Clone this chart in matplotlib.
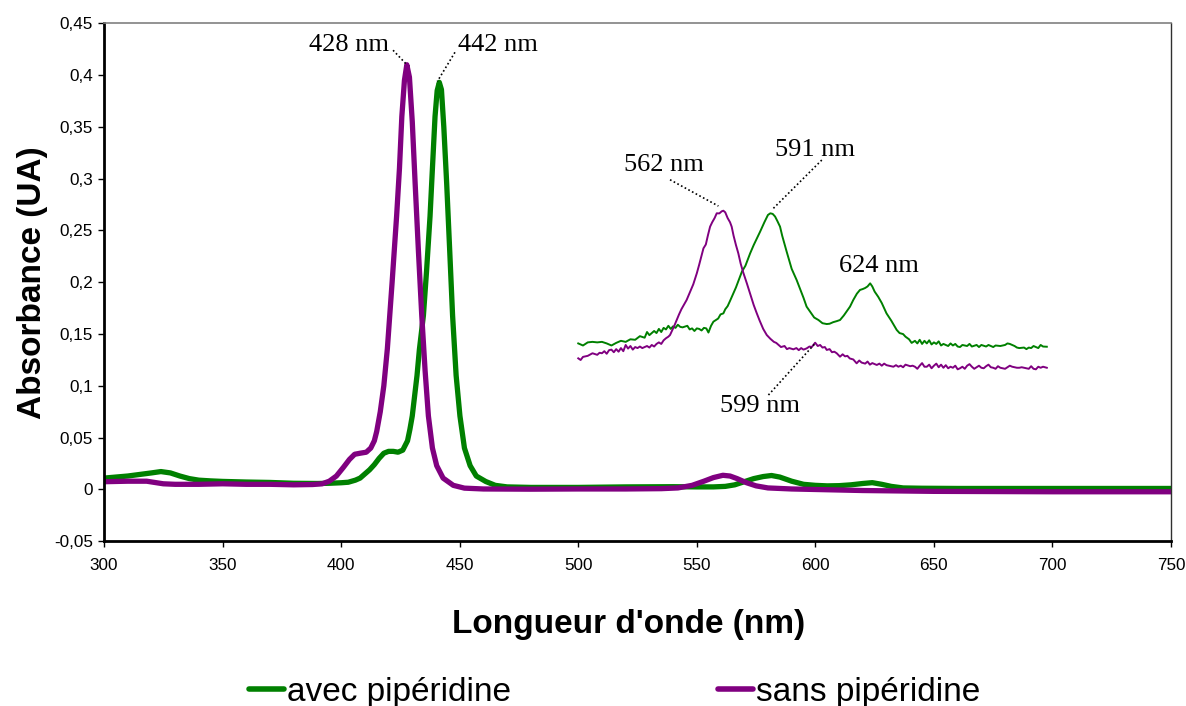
import matplotlib.pyplot as plt
from matplotlib.lines import Line2D
from matplotlib.ticker import FuncFormatter, MultipleLocator

# couleurs des deux séries
GREEN = '#008000'
PURPLE = '#800080'

# spectres complets (nm, absorbance)
avec = [(300, 0.011), (305, 0.012), (310, 0.013), (315, 0.0145), (320, 0.016), (324, 0.0173),
        (328, 0.016), (332, 0.013), (336, 0.0105), (340, 0.009), (345, 0.0083), (350, 0.0078),
        (360, 0.0072), (370, 0.0068), (380, 0.006), (390, 0.0058), (395, 0.006), (400, 0.0065),
        (403, 0.007), (406, 0.009), (408, 0.011), (410, 0.015), (412, 0.019), (414, 0.024),
        (416, 0.030), (418, 0.035), (420, 0.0368), (422, 0.0368), (424, 0.036), (426, 0.038),
        (428, 0.047), (429, 0.058), (430, 0.071), (432, 0.11), (433, 0.135), (434.7, 0.168),
        (436, 0.21), (437.5, 0.264), (438.5, 0.31), (439.6, 0.36), (440.5, 0.385), (441.4, 0.393),
        (442.3, 0.386), (443.3, 0.35), (444.5, 0.296), (445.8, 0.23), (447, 0.168), (448.5, 0.11),
        (450.1, 0.071), (452, 0.04), (454.4, 0.023), (457, 0.013), (461, 0.0077), (465, 0.004),
        (470, 0.0025), (480, 0.002), (500, 0.002), (520, 0.0025), (540, 0.0027), (550, 0.0025),
        (557, 0.0025), (562, 0.003), (566, 0.0045), (570, 0.0075), (574, 0.0105), (578, 0.0125),
        (581.5, 0.0135), (585, 0.012), (590, 0.008), (595, 0.005), (600, 0.004), (605, 0.0035),
        (610, 0.0037), (615, 0.0045), (620, 0.0058), (624, 0.0066), (628, 0.005), (632, 0.003),
        (637, 0.0015), (645, 0.0012), (660, 0.001), (700, 0.001), (750, 0.001)]

sans = [(300, 0.0075), (310, 0.008), (318, 0.008), (325, 0.0055), (330, 0.005), (340, 0.005),
        (350, 0.0055), (360, 0.005), (370, 0.005), (380, 0.0045), (388, 0.0048), (392, 0.0055),
        (395, 0.008), (398, 0.013), (401, 0.0215), (403.5, 0.029), (405.7, 0.034), (408, 0.035),
        (410.6, 0.036), (412.5, 0.040), (414, 0.047), (415, 0.056), (416.5, 0.075), (418, 0.10),
        (419.5, 0.136), (421.5, 0.2), (423.4, 0.264), (424.6, 0.31), (425.6, 0.36), (426.7, 0.395),
        (427.7, 0.41), (428.8, 0.398), (430, 0.355), (431.2, 0.296), (432.6, 0.23), (434, 0.168),
        (435.4, 0.115), (436.8, 0.071), (438.5, 0.04), (440.3, 0.023), (443, 0.011), (447.3, 0.004),
        (452, 0.0013), (460, 0.0005), (480, 0.0003), (500, 0.0005), (520, 0.0005), (535, 0.0008),
        (542, 0.0015), (548, 0.004), (553, 0.008), (557, 0.0115), (561, 0.0137), (564, 0.013),
        (567, 0.0105), (571, 0.0065), (575, 0.0035), (580, 0.0015), (590, 0.0005), (600, 0.0),
        (620, -0.001), (650, -0.0018), (700, -0.0022), (750, -0.0022)]

# agrandissement de la zone 500-700 nm (décalé)
avec_zoom = [(500, 0.141), (502, 0.139), (504, 0.142), (506, 0.1425), (508, 0.142), (510, 0.1425),
             (512, 0.141), (514, 0.139), (516, 0.1415), (518, 0.1435), (520, 0.1425), (522, 0.145),
             (524, 0.1445), (526, 0.148), (528, 0.1465), (529, 0.152), (530, 0.149), (532, 0.153),
             (533, 0.151), (534, 0.155), (535, 0.152), (536, 0.156), (537, 0.1545), (538, 0.158),
             (539, 0.155), (540, 0.1575), (541, 0.156), (542, 0.159), (543, 0.157), (544, 0.1565),
             (546, 0.158), (547, 0.1545), (548, 0.1555), (549, 0.153), (550, 0.1555), (551, 0.155),
             (552, 0.1535), (553, 0.156), (554, 0.1555), (554.9, 0.1515), (556, 0.158), (557, 0.162),
             (558, 0.1635), (559, 0.165), (560, 0.169), (561.2, 0.170), (562, 0.174), (563, 0.177),
             (564, 0.182), (565.4, 0.1894), (566.5, 0.195), (567.5, 0.201), (569, 0.2102),
             (570.5, 0.216), (572.5, 0.228), (574, 0.236), (576.7, 0.2489), (578.5, 0.258),
             (580, 0.265), (581, 0.2666), (582, 0.266), (583, 0.2635), (584, 0.259), (585.1, 0.2537),
             (586, 0.245), (587.9, 0.2295), (589, 0.221), (590, 0.213), (592.1, 0.2022),
             (593.5, 0.194), (595, 0.185), (596.3, 0.1765), (598, 0.171), (599.5, 0.166),
             (601.3, 0.1636), (603, 0.1605), (604.8, 0.1597), (606, 0.160), (607.5, 0.1615),
             (609, 0.1625), (610.4, 0.1636), (612, 0.168), (613.5, 0.173), (614.6, 0.1765),
             (616, 0.183), (617.5, 0.189), (618.8, 0.1926), (620, 0.1935), (621, 0.1945), (622, 0.196),
             (623.1, 0.199), (624, 0.196), (625, 0.191), (626.5, 0.186), (628, 0.180), (629, 0.175),
             (630, 0.170), (631, 0.1665), (632, 0.163), (633, 0.159), (634.3, 0.154), (635.5, 0.151),
             (637, 0.150), (638, 0.1475), (639.5, 0.145), (640.6, 0.1415), (642, 0.1435), (643, 0.141),
             (644, 0.1445), (645, 0.1405), (646, 0.1435), (647, 0.141), (648, 0.144), (649, 0.140),
             (650, 0.142), (651, 0.1405), (652, 0.143), (653, 0.139), (654, 0.1405), (656, 0.1385),
             (657, 0.141), (658, 0.139), (659, 0.1405), (660, 0.138), (661, 0.1375), (662, 0.1395),
             (664, 0.1385), (665, 0.1405), (666, 0.138), (668, 0.1395), (669, 0.1375), (670, 0.1395),
             (672, 0.138), (673, 0.1395), (675, 0.1375), (676, 0.139), (678, 0.1385), (680, 0.1395),
             (681, 0.141), (682, 0.1405), (684, 0.1385), (685, 0.137), (686, 0.1365), (688, 0.137),
             (689, 0.1355), (690, 0.137), (691, 0.1365), (692, 0.1385), (693, 0.1375), (694, 0.1365),
             (695, 0.1395), (696, 0.138), (697.6, 0.1378)]

sans_zoom = [(500, 0.1266), (501, 0.125), (502, 0.128), (504, 0.129), (506, 0.1315), (508, 0.130),
             (509, 0.132), (510, 0.1315), (511, 0.1335), (512, 0.131), (513, 0.1345), (514, 0.135),
             (515, 0.1325), (516, 0.1355), (517, 0.133), (518, 0.1365), (519, 0.1335), (520, 0.1395),
             (521, 0.136), (522, 0.1385), (523, 0.135), (524, 0.1375), (525, 0.1365), (526, 0.138),
             (527, 0.1365), (528, 0.1375), (529, 0.1385), (530, 0.137), (531, 0.1395), (532, 0.138),
             (533, 0.1405), (534, 0.142), (535, 0.1405), (536, 0.144), (537, 0.146), (538, 0.1475),
             (538.7, 0.1491), (539.5, 0.153), (540.5, 0.158), (541.5, 0.1636), (542.5, 0.169),
             (543.5, 0.174), (544.5, 0.178), (545.7, 0.1829), (547, 0.190), (548.5, 0.198),
             (550, 0.2087), (551, 0.217), (552, 0.226), (552.8, 0.2328), (553.8, 0.2365),
             (554.7, 0.2455), (555.6, 0.2537), (556.5, 0.258), (557.5, 0.262), (558.4, 0.2666),
             (559.5, 0.2665), (560.5, 0.2685), (561.2, 0.2691), (562, 0.2675), (563, 0.262),
             (564, 0.258), (564.7, 0.2537), (565.5, 0.245), (566.5, 0.236), (567.5, 0.228),
             (568.5, 0.218), (569.5, 0.210), (571.1, 0.199), (572.5, 0.189), (574, 0.178),
             (575.3, 0.170), (576.5, 0.163), (578, 0.155), (579.5, 0.1491), (581, 0.1455),
             (582.5, 0.1425), (583.5, 0.1415), (584.5, 0.1395), (585.5, 0.1375), (587, 0.1385),
             (588, 0.1355), (589, 0.1365), (590.7, 0.1353), (592, 0.1365), (593, 0.1345), (594, 0.1365),
             (595, 0.135), (596.3, 0.1362), (597.5, 0.138), (598.5, 0.1375), (599.9, 0.1417),
             (601, 0.1385), (602, 0.1395), (603, 0.137), (604, 0.1375), (604.8, 0.1347), (606, 0.1355),
             (607, 0.1325), (608, 0.133), (609, 0.1315), (610.4, 0.1282), (611.5, 0.1305),
             (612.5, 0.1285), (613.5, 0.129), (614.5, 0.1265), (616, 0.1255), (617.4, 0.1218),
             (618.5, 0.1245), (619.5, 0.1225), (621, 0.1215), (622, 0.1235), (623, 0.1205), (624, 0.122),
             (625.9, 0.1202), (627, 0.1215), (628, 0.1195), (629, 0.1215), (630, 0.120), (631, 0.1195),
             (632.9, 0.1185), (634, 0.120), (635, 0.1185), (636, 0.1195), (637, 0.118), (638, 0.1205),
             (640, 0.119), (641, 0.1195), (642, 0.1185), (643, 0.1165), (644, 0.1195), (645, 0.122),
             (646, 0.1185), (647, 0.1185), (648, 0.1205), (649, 0.117), (650, 0.1195), (651, 0.1215),
             (652, 0.118), (653, 0.1205), (654, 0.1175), (655, 0.120), (656, 0.117), (657, 0.1185),
             (658, 0.1175), (659, 0.1195), (660, 0.116), (661, 0.117), (662, 0.1185), (663, 0.1165),
             (664, 0.1195), (665, 0.121), (666, 0.1185), (667, 0.1165), (668, 0.118), (669, 0.1195),
             (670, 0.1175), (671, 0.117), (672, 0.119), (673, 0.1205), (674, 0.118), (675, 0.1175),
             (676, 0.1165), (677, 0.119), (678, 0.1175), (680, 0.1165), (681, 0.118), (682, 0.1195),
             (683, 0.1185), (684, 0.118), (685, 0.1175), (686, 0.1175), (687, 0.118), (688, 0.1175),
             (689, 0.117), (690, 0.1165), (691, 0.119), (692, 0.1165), (693, 0.116), (694, 0.1185),
             (695, 0.1175), (696, 0.1185), (697.6, 0.1175)]

# étiquettes des pics : texte, position du texte, début et fin du trait pointillé
peaks = [('428 nm', (403.5, 0.429), (421.9, 0.424), (427.7, 0.41)),
         ('442 nm', (466.0, 0.429), (448.0, 0.422), (440.6, 0.394)),
         ('562 nm', (536.0, 0.313), (538.7, 0.299), (559.1, 0.2736)),
         ('591 nm', (600.0, 0.328), (602.7, 0.318), (582.3, 0.2714)),
         ('624 nm', (627.0, 0.216), None, None),
         ('599 nm', (576.7, 0.081), (580.2, 0.0912), (599.9, 0.141))]


def unzip(pts):
    return [p[0] for p in pts], [p[1] for p in pts]


fig = plt.figure(figsize=(11.86, 7.06), dpi=100)
ax = fig.add_axes([0.0877, 0.2333, 0.8997, 0.7337])

x, y = unzip(avec)
ax.plot(x, y, color=GREEN, lw=3.8, solid_capstyle='round')
x, y = unzip(sans)
ax.plot(x, y, color=PURPLE, lw=3.8, solid_capstyle='round')
x, y = unzip(avec_zoom)
ax.plot(x, y, color=GREEN, lw=1.4)
x, y = unzip(sans_zoom)
ax.plot(x, y, color=PURPLE, lw=1.4)

for label, txt, start, end in peaks:
    ax.text(txt[0], txt[1], label, ha='center', va='center', fontsize=19,
            family='Liberation Serif')
    if start is not None:
        ax.plot([start[0], end[0]], [start[1], end[1]], color='black', lw=1.2, ls=(0, (1, 1.5)))

ax.set_xlim(300, 750)
ax.set_ylim(-0.05, 0.45)
ax.xaxis.set_major_locator(MultipleLocator(50))
ax.yaxis.set_major_locator(MultipleLocator(0.05))
ax.yaxis.set_major_formatter(FuncFormatter(lambda v, p: ('%g' % round(v, 3)).replace('.', ',')))
ax.tick_params(direction='out', length=4, width=1, labelsize=12.3, pad=4)
for t in ax.get_xticklabels() + ax.get_yticklabels():
    t.set_family('Liberation Sans')
ax.tick_params(axis='x', pad=8)

ax.spines['left'].set_linewidth(2)
ax.spines['bottom'].set_linewidth(2)
ax.spines['top'].set_color('#808080')
ax.spines['top'].set_linewidth(1.2)
ax.spines['right'].set_color('#303030')
ax.spines['right'].set_linewidth(1)

ax.set_xlabel("Longueur d'onde (nm)", fontsize=24, fontweight='bold',
              family='Liberation Sans', labelpad=26)
ax.xaxis.label.set_x(0.492)
ax.set_ylabel('Absorbance (UA)', fontsize=24, fontweight='bold',
              family='Liberation Sans', labelpad=4)

handles = [Line2D([], [], color=GREEN, lw=4, solid_capstyle='round'),
           Line2D([], [], color=PURPLE, lw=4, solid_capstyle='round')]
fig.legend(handles, ['avec pipéridine', 'sans pipéridine'], loc='center',
           bbox_to_anchor=(0.518, 0.019), ncol=2, frameon=False,
           prop={'family': 'Liberation Sans', 'size': 24},
           handlelength=1.05, handletextpad=0.1, columnspacing=6.2)

plt.savefig('out.png', dpi=100)
